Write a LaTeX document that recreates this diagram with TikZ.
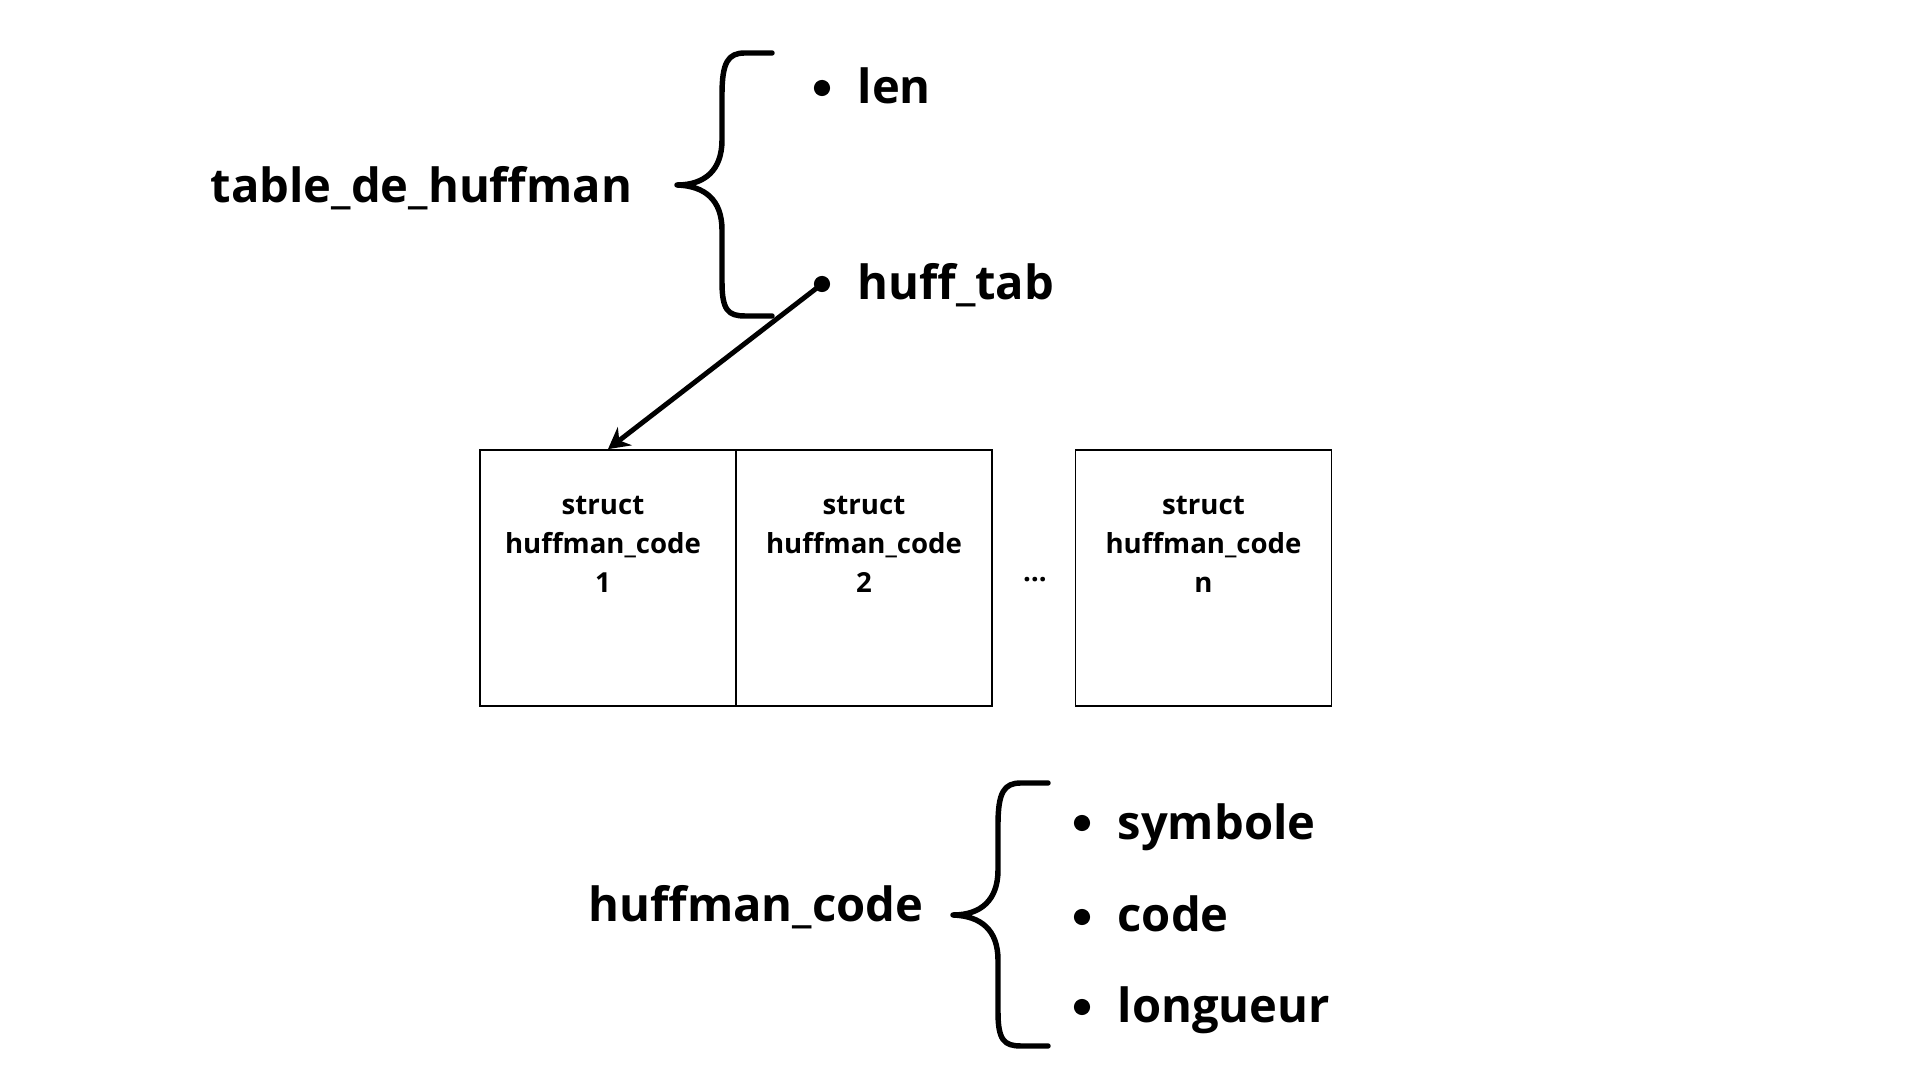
\documentclass[tikz,border=0pt]{standalone}
\usepackage{fontspec}
\setmainfont{Open Sans}
\usetikzlibrary{arrows.meta}

\begin{document}
\begin{tikzpicture}[x=0.01cm,y=-0.01cm,
    titre/.style={font=\fontsize{13.4}{16}\selectfont\bfseries, inner sep=0pt, anchor=base west},
    puce/.style={circle, fill=black, inner sep=0pt, minimum size=4.6pt},
    case/.style={draw, line width=0.45pt, minimum size=2.56cm, inner sep=0pt},
    casetxt/.style={font=\fontsize{7.85}{11.1}\selectfont\bfseries, align=center, inner sep=0pt},
    accolade/.style={line width=1.55pt, line cap=round, line join=round},
    fleche/.style={line width=1.4pt, line cap=round, -{Stealth[length=6pt,width=6.5pt]}}]
    \useasboundingbox (0,0) rectangle (1920,1080);
    % table de huffman
    \node[titre] (table) at (210,203) {table\_de\_huffman};
    \draw[accolade] (772,53) -- (745,53) .. controls (728,53) and (722,62) .. (722,95) -- (722,140)
        .. controls (722,170) and (705,185) .. (677,185)
        .. controls (705,186) and (722,200) .. (722,230) -- (722,282)
        .. controls (722,310) and (728,316) .. (745,316) -- (772,316);
    \node[puce] (plen) at (822,88) {};
    \node[titre] (len) at (857,104) {len};
    \node[puce] (phuff) at (822,284) {};
    \node[titre] (hufftab) at (857,300) {huff\_tab};
    % tableau de huffman_code
    \node[case] (c1) at (608,578) {};
    \node[case] (c2) at (864,578) {};
    \node[case] (c3) at (1203.5,578) {};
    \node[casetxt] (t1) at (603,544.5) {struct\\huffman\_code\\1};
    \node[casetxt] (t2) at (864,544.5) {struct\\huffman\_code\\2};
    \node[casetxt] (t3) at (1203.5,544.5) {struct\\huffman\_code\\n};
    \node[casetxt] (pts) at (1035,580) {…};
    \draw[fleche] (phuff.center) -- (c1.north);
    % huffman_code
    \node[titre] (hcode) at (588,922) {huffman\_code};
    \begin{scope}[shift={(276,730)}]
        \draw[accolade] (772,53) -- (745,53) .. controls (728,53) and (722,62) .. (722,95) -- (722,140)
            .. controls (722,170) and (705,185) .. (677,185)
            .. controls (705,186) and (722,200) .. (722,230) -- (722,282)
            .. controls (722,310) and (728,316) .. (745,316) -- (772,316);
    \end{scope}
    \node[puce] (psym) at (1082,823) {};
    \node[titre] (sym) at (1117,840) {symbole};
    \node[puce] (pcode) at (1082,917) {};
    \node[titre] (code) at (1117,932) {code};
    \node[puce] (plong) at (1082,1007) {};
    \node[titre] (long) at (1117,1023) {longueur};
\end{tikzpicture}
\end{document}
